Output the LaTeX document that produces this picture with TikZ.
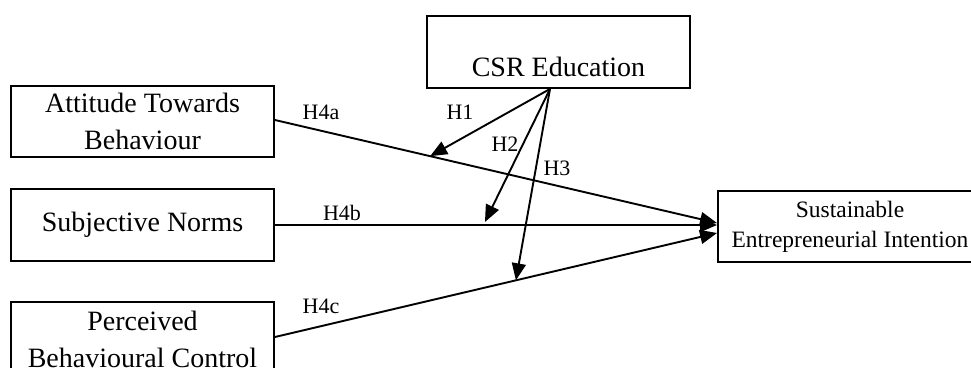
\documentclass[tikz,border=0pt]{standalone}
\usepackage{fontspec}
\setmainfont{Liberation Serif}
\usetikzlibrary{arrows.meta}

\begin{document}
\begin{tikzpicture}[x={(1pt,0)},y={(0,-1pt)},
  box/.style={draw,line width=1.9pt,inner sep=0pt,minimum width=263pt,align=center,font=\fontsize{28}{37}\selectfont},
  hyp/.style={font=\fontsize{22}{29}\selectfont},
  link/.style={line width=1.9pt,-{Triangle[length=17pt,width=14pt]}}]
\useasboundingbox (0,0) rectangle (971,367);
\node[box,minimum height=71pt] (att) at (142.5,121.5) {Attitude Towards\\Behaviour};
\node[box,minimum height=72pt] (sn) at (142.5,225) {Subjective Norms};
\node[box,minimum height=74pt] (pbc) at (142.5,339) {Perceived\\Behavioural Control};
\node[box,text height=60pt,text depth=12pt] (csr) at (558.5,52) {CSR Education};
\node[box,minimum width=264pt,minimum height=71pt,font=\fontsize{23.5}{30}\selectfont] (sei) at (850,226.5) {Sustainable\\Entrepreneurial Intention};
\draw[link] ([yshift=1.5pt]att.east) -- coordinate[pos=0.351] (m1) ([yshift=3.5pt]sei.west);
\draw[link] (sn.east) -- coordinate[pos=0.475] (m2) (sn.east -| sei.west);
\draw[link] ([yshift=2pt]pbc.east) -- coordinate[pos=0.545] (m3) ([yshift=-6.5pt]sei.west);
\draw[link] ([xshift=-8.5pt]csr.south) -- (m1);
\draw[link] ([xshift=-8.5pt]csr.south) -- ([yshift=3pt]m2);
\draw[link] ([xshift=-8.5pt]csr.south) -- (m3);
\node[hyp] (h4a) at (321,112) {H4a};
\node[hyp] (h1) at (460,112) {H1};
\node[hyp] (h2) at (505,144) {H2};
\node[hyp] (h3) at (557,168) {H3};
\node[hyp] (h4b) at (342,213) {H4b};
\node[hyp] (h4c) at (321,306) {H4c};
\end{tikzpicture}
\end{document}
